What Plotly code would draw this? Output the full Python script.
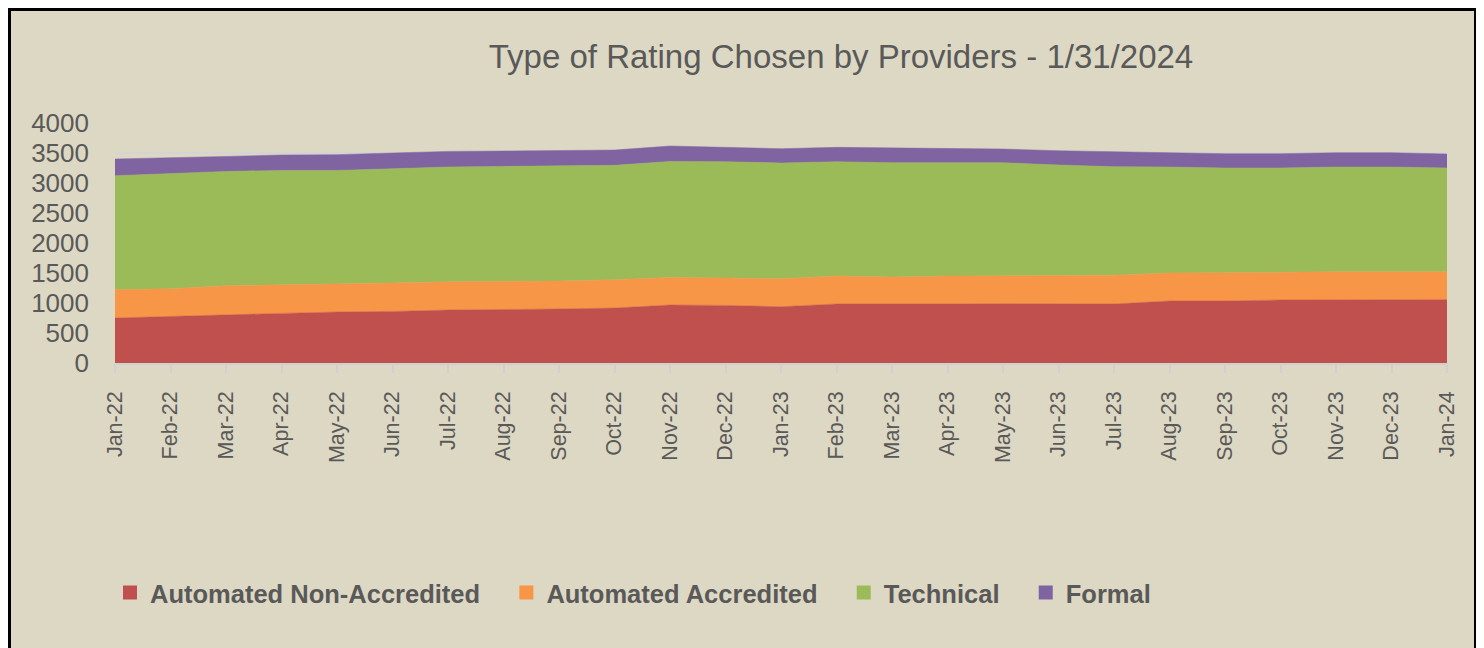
import plotly.graph_objects as go

months = ["Jan-22", "Feb-22", "Mar-22", "Apr-22", "May-22", "Jun-22", "Jul-22", "Aug-22",
          "Sep-22", "Oct-22", "Nov-22", "Dec-22", "Jan-23", "Feb-23", "Mar-23", "Apr-23",
          "May-23", "Jun-23", "Jul-23", "Aug-23", "Sep-23", "Oct-23", "Nov-23", "Dec-23", "Jan-24"]

automated_non_accredited = [750, 777, 810, 827, 850, 860, 883, 888, 900, 916, 966, 960, 938,
                            983, 977, 983, 988, 983, 983, 1033, 1033, 1050, 1055, 1055, 1055]
automated_accredited = [472, 461, 478, 473, 467, 473, 472, 472, 466, 472, 461, 456, 467,
                        467, 456, 467, 467, 472, 478, 467, 467, 461, 467, 467, 467]
technical = [1900, 1917, 1905, 1910, 1893, 1905, 1912, 1917, 1922, 1906, 1933, 1939, 1928,
             1905, 1905, 1883, 1883, 1845, 1811, 1766, 1750, 1739, 1744, 1744, 1728]
formal = [278, 272, 250, 257, 262, 262, 260, 256, 256, 255, 256, 239, 239,
          239, 245, 233, 228, 238, 244, 239, 238, 238, 239, 239, 233]

series = [
    ("Automated Non-Accredited", automated_non_accredited, "#C0504D"),
    ("Automated Accredited", automated_accredited, "#F79646"),
    ("Technical", technical, "#9BBB59"),
    ("Formal", formal, "#8064A2"),
]

BG = "#DDD8C3"
TXT = "#595959"
GAP = "\u00a0" * 3

fig = go.Figure()
for name, vals, col in series:
    fig.add_trace(go.Scatter(
        x=months, y=vals, name=name, mode="lines", stackgroup="one",
        line=dict(width=0.5, color=col), fillcolor=col, showlegend=False,
    ))
for i, (name, vals, col) in enumerate(series):
    label = name + (GAP if i < len(series) - 1 else "")
    fig.add_trace(go.Scatter(
        x=[None], y=[None], name=label, mode="markers",
        marker=dict(symbol="square", size=14, color=col), showlegend=True,
    ))

# page offset (browser body margin)
OFF = 8
FW, FH = 1484 - OFF, 648 - OFF
L, W, T, H = 115, 1332, 123, 240  # plot area in page pixels


def px_x(p):
    return (p - L) / W


def px_y(p):
    return (T + H - p) / H


fig.update_layout(
    width=FW, height=FH,
    margin=dict(l=L - OFF, r=FW - (L - OFF) - W, t=T - OFF, b=FH - (T - OFF) - H, pad=0),
    paper_bgcolor="white",
    plot_bgcolor="rgba(0,0,0,0)",
    title=dict(
        text="Type of Rating Chosen by Providers - 1/31/2024",
        font=dict(family="Liberation Sans Narrow, Liberation Sans, Arial", size=33, color=TXT),
        x=(841 - OFF) / FW, xref="container", xanchor="center",
        y=1 - (56 - OFF) / FH, yref="container", yanchor="middle",
    ),
    showlegend=True,
    legend=dict(
        orientation="h", x=px_x(110), xanchor="left", y=px_y(593), yanchor="middle",
        font=dict(family="Liberation Sans, Arial", size=25.5, color=TXT, weight="bold"),
        bgcolor="rgba(0,0,0,0)", traceorder="normal",
        itemwidth=30,
    ),
    xaxis=dict(
        type="category", range=[0, len(months) - 1],
        tickangle=-90, tickfont=dict(family="Liberation Sans, Arial", size=21.5, color=TXT),
        ticks="outside", ticklen=8, tickcolor="#D0D0D0", tickwidth=1.5,
        showline=True, linecolor="#D0D0D0", linewidth=1.5,
        showgrid=False, zeroline=False, ticklabelstandoff=10,
    ),
    yaxis=dict(
        range=[0, 4000], dtick=500,
        tickfont=dict(family="Liberation Sans, Arial", size=26, color=TXT),
        showgrid=True, gridcolor="#D4D4D4", gridwidth=1.5,
        zeroline=False, showline=False, ticks="", ticklabelstandoff=25,
    ),
    shapes=[dict(
        type="rect", xref="paper", yref="paper",
        x0=px_x(9.5), x1=px_x(1475.5), y0=px_y(9.5), y1=px_y(720),
        fillcolor=BG, line=dict(color="black", width=3), layer="below",
    )],
)

fig.write_html("out.html")
